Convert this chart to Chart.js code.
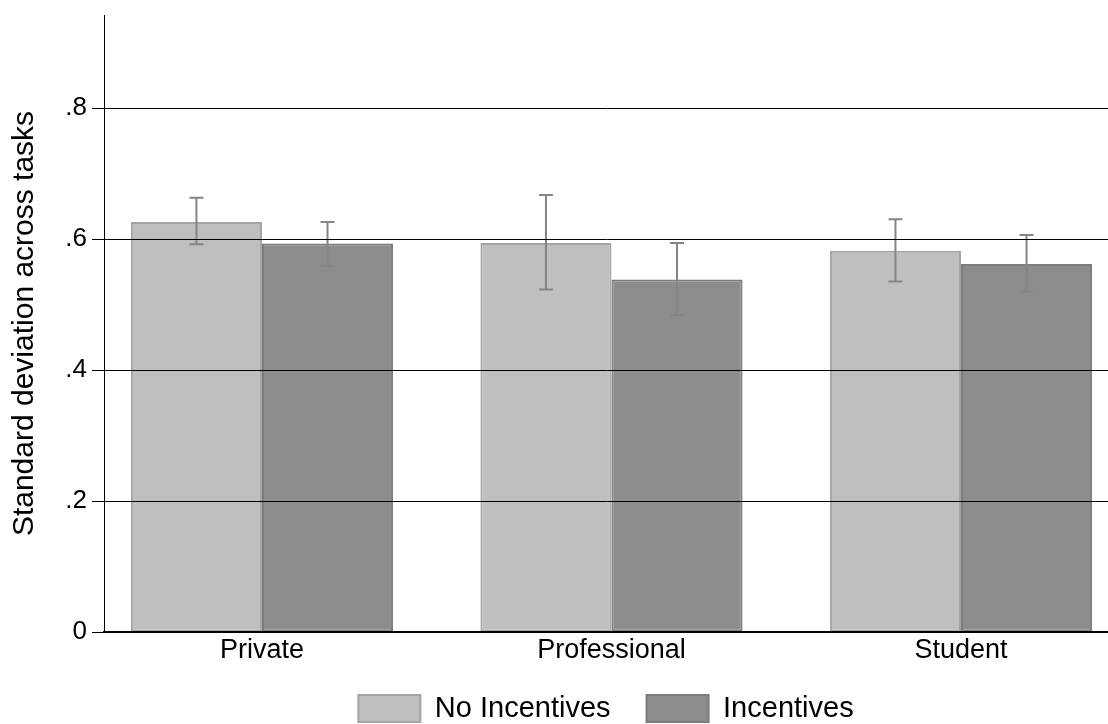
<!DOCTYPE html>
<html>
<head>
<meta charset="utf-8">
<script src="https://cdn.jsdelivr.net/npm/chart.js@4.4.1/dist/chart.umd.min.js"></script>
<style>
  html, body { margin: 0; padding: 0; background: #ffffff; }
  #wrap { width: 1108px; height: 724px; }
</style>
</head>
<body>
<div id="wrap"><canvas id="c" width="1108" height="724"></canvas></div>
<script>
// ---- Data ----
const categories = ['Private', 'Professional', 'Student'];
const categoryIndex = [1, 2, 3];
const seriesNames = ['No Incentives', 'Incentives'];
const noIncentives = [0.626, 0.594, 0.582];
const noIncentivesLow = [0.592, 0.523, 0.535];
const noIncentivesHigh = [0.663, 0.667, 0.630];
const incentives = [0.593, 0.538, 0.562];
const incentivesLow = [0.559, 0.484, 0.520];
const incentivesHigh = [0.626, 0.594, 0.606];
const yTickValues = [0, 0.2, 0.4, 0.6, 0.8];
const yTickLabels = ['0', '.2', '.4', '.6', '.8'];

function toPoints(vals) {
  return vals.map((v, i) => ({ x: categoryIndex[i], y: v }));
}

const errorBarPlugin = {
  id: 'errorBars',
  afterDatasetsDraw(chart) {
    const ctx = chart.ctx;
    const ys = chart.scales.y;
    chart.data.datasets.forEach((ds, di) => {
      const meta = chart.getDatasetMeta(di);
      meta.data.forEach((bar, i) => {
        const lo = ys.getPixelForValue(ds.errLow[i]);
        const hi = ys.getPixelForValue(ds.errHigh[i]);
        ctx.save();
        ctx.strokeStyle = '#858585';
        ctx.lineWidth = 2;
        ctx.beginPath();
        ctx.moveTo(bar.x, lo); ctx.lineTo(bar.x, hi);
        ctx.moveTo(bar.x - 7, lo); ctx.lineTo(bar.x + 7, lo);
        ctx.moveTo(bar.x - 7, hi); ctx.lineTo(bar.x + 7, hi);
        ctx.stroke();
        ctx.restore();
      });
    });
  }
};

new Chart(document.getElementById('c'), {
  type: 'bar',
  data: {
    datasets: [
      {
        label: seriesNames[0],
        data: toPoints(noIncentives),
        errLow: noIncentivesLow,
        errHigh: noIncentivesHigh,
        backgroundColor: '#bfbfbf',
        borderColor: '#a4a4a4',
        borderWidth: 2,
        borderSkipped: false
      },
      {
        label: seriesNames[1],
        data: toPoints(incentives),
        errLow: incentivesLow,
        errHigh: incentivesHigh,
        backgroundColor: '#8c8c8c',
        borderColor: '#7c7c7c',
        borderWidth: 2,
        borderSkipped: false
      }
    ]
  },
  options: {
    responsive: false,
    animation: false,
    devicePixelRatio: 1,
    categoryPercentage: 0.75,
    barPercentage: 1.0,
    layout: { padding: { top: 15, right: 0, left: 0, bottom: -9 } },
    plugins: {
      tooltip: { enabled: false },
      legend: {
        position: 'bottom',
        fullSize: false,
        labels: {
          color: '#000',
          font: { family: 'Liberation Sans, Arial, sans-serif', size: 29 },
          boxWidth: 62,
          boxHeight: 27,
          padding: 36
        }
      }
    },
    scales: {
      x: {
        type: 'linear',
        offset: false,
        min: 0.548,
        max: 3.4206,
        afterBuildTicks(scale) {
          scale.ticks = categoryIndex.map(v => ({ value: v }));
        },
        afterFit(scale) { scale.height = 26; },
        grid: { display: false, drawTicks: false, tickLength: 0, offset: false },
        border: { display: true, color: '#000', width: 2, z: 2 },
        ticks: {
          color: '#000',
          font: { family: 'Liberation Sans, Arial, sans-serif', size: 27 },
          padding: 2,
          maxRotation: 0,
          autoSkip: false,
          callback: (v) => categories[categoryIndex.indexOf(v)] ?? ''
        }
      },
      y: {
        min: 0,
        max: 0.942,
        afterBuildTicks(scale) {
          scale.ticks = yTickValues.map(v => ({ value: v }));
        },
        afterFit(scale) {
          scale.width = 104;
          scale.paddingTop = 0;
          scale.paddingBottom = 0;
        },
        grid: { color: '#000', lineWidth: 1, drawTicks: true, tickLength: 12, z: 1 },
        border: { display: true, color: '#000', width: 1, z: 2 },
        ticks: {
          color: '#000',
          font: { family: 'Liberation Sans, Arial, sans-serif', size: 26 },
          padding: 5,
          callback: (v) => {
            const k = yTickValues.findIndex(t => Math.abs(t - v) < 1e-9);
            return k >= 0 ? yTickLabels[k] : '';
          }
        },
        title: {
          display: true,
          text: 'Standard deviation across tasks',
          color: '#000',
          font: { family: 'Liberation Sans, Arial, sans-serif', size: 30 },
          padding: { top: 7, bottom: 0 }
        }
      }
    }
  },
  plugins: [errorBarPlugin]
});
</script>
</body>
</html>
